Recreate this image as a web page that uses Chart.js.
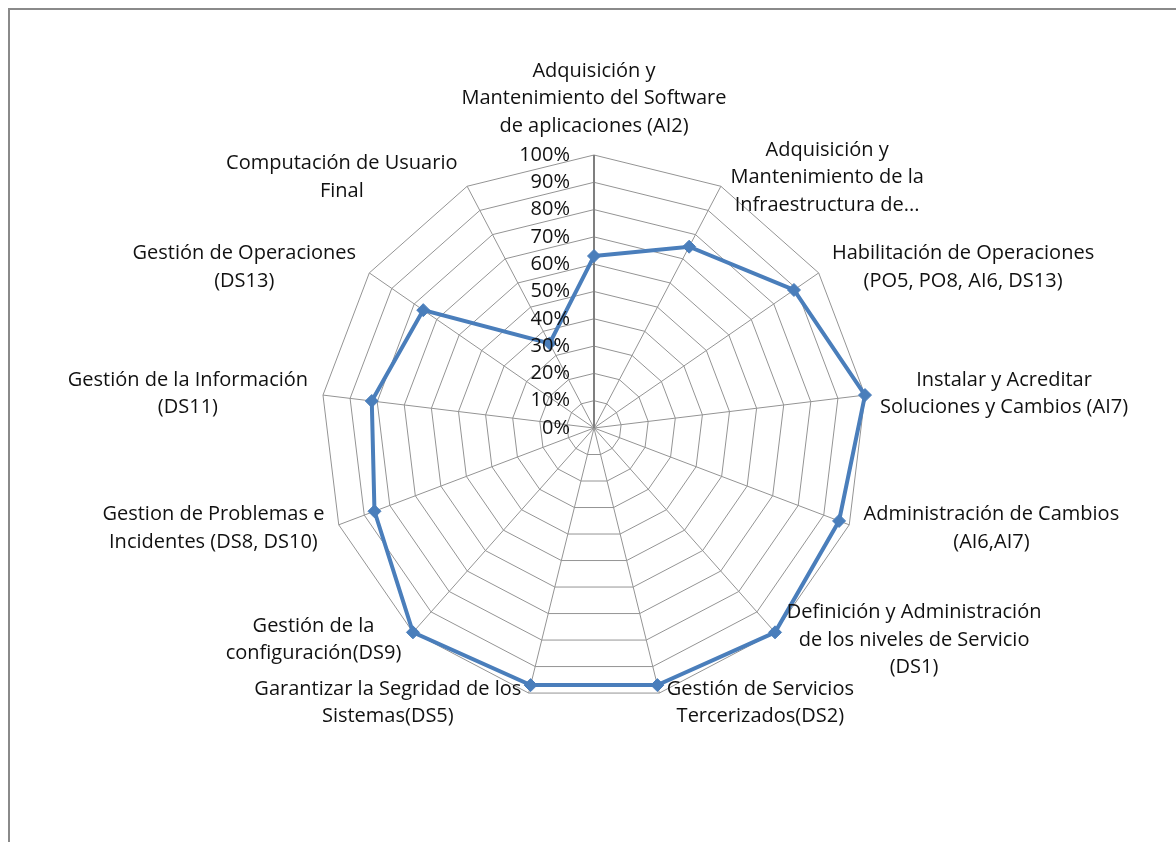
<!DOCTYPE html>
<html>
<head>
<meta charset="utf-8">
<script src="https://cdn.jsdelivr.net/npm/chart.js@4.4.1/dist/chart.umd.min.js"></script>
<style>
    html, body { margin: 0; padding: 0; background: #fff; }
    #wrap { position: relative; width: 1176px; height: 842px; overflow: hidden; }
    #frame { position: absolute; left: 8px; top: 8px; right: -10px; bottom: -10px;
             border-top: 2px solid #8a8a8a; border-left: 2px solid #8a8a8a; }
    canvas { position: absolute; left: 0; top: 0; }
</style>
</head>
<body>
<div id="wrap">
    <div id="frame"></div>
    <canvas id="radarChart" width="1176" height="842"></canvas>
</div>
<script>
// categories, clockwise from the top
const categories = [
    ['Adquisición y', 'Mantenimiento del Software', 'de aplicaciones (AI2)'],
    ['Adquisición y', 'Mantenimiento de la', 'Infraestructura de...'],
    ['Habilitación de Operaciones', '(PO5, PO8, AI6, DS13)'],
    ['Instalar y Acreditar', 'Soluciones y Cambios (AI7)'],
    ['Administración de Cambios', '(AI6,AI7)'],
    ['Definición y Administración', 'de los niveles de Servicio', '(DS1)'],
    ['Gestión de Servicios', 'Tercerizados(DS2)'],
    ['Garantizar la Segridad de los', 'Sistemas(DS5)'],
    ['Gestión de la', 'configuración(DS9)'],
    ['Gestion de Problemas e', 'Incidentes (DS8, DS10)'],
    ['Gestión de la Información', '(DS11)'],
    ['Gestión de Operaciones', '(DS13)'],
    ['Computación de Usuario', 'Final']
];

// percent values per category
const seriesValues = [63, 75, 89, 100, 96, 100, 97, 97, 100, 86, 82, 76, 35];

const tickValues = [0, 10, 20, 30, 40, 50, 60, 70, 80, 90, 100];

// layout of the polar area
const CENTER_X = 594;
const CENTER_Y = 428;
const RADIUS = 273;
const FONT = '20px "Open Sans", "Noto Sans", sans-serif';
const LINE_H = 27.5;

const textPlugin = {
    id: 'excelText',
    afterDraw(chart) {
        const scale = chart.scales.r;
        const ctx = chart.ctx;
        ctx.save();
        ctx.font = FONT;
        ctx.fillStyle = '#111';
        ctx.textBaseline = 'middle';

        // value axis labels, left of the vertical spoke
        ctx.textAlign = 'right';
        tickValues.forEach(v => {
            const d = scale.getDistanceFromCenterForValue(v);
            ctx.fillText(v + '%', scale.xCenter - 24, scale.yCenter - d);
        });

        // category labels
        ctx.textAlign = 'center';
        const n = categories.length;
        categories.forEach((lines, i) => {
            const p = scale.getPointPosition(i, scale.drawingArea + 10);
            const deg = i * 360 / n;
            const w = Math.max(...lines.map(l => ctx.measureText(l).width));
            const h = lines.length * LINE_H;
            let cx, top;
            if (deg === 0) {
                cx = p.x;
                top = p.y - h - 5;
            } else if (deg < 180) {
                cx = p.x + 5 + w / 2;
                top = p.y - h / 2;
            } else {
                cx = p.x - 5 - w / 2;
                top = p.y - h / 2;
            }
            lines.forEach((l, j) => ctx.fillText(l, cx, top + LINE_H * (j + 0.5)));
        });
        ctx.restore();
    }
};

new Chart(document.getElementById('radarChart'), {
    type: 'radar',
    data: {
        labels: categories,
        datasets: [{
            label: 'Serie1',
            data: seriesValues,
            borderColor: '#4A7EBB',
            backgroundColor: '#4A7EBB',
            borderWidth: 4,
            fill: false,
            pointStyle: 'rectRot',
            pointRadius: 6.5,
            pointBorderWidth: 1,
            pointBackgroundColor: '#4A7EBB',
            pointBorderColor: '#4A7EBB'
        }]
    },
    options: {
        responsive: false,
        animation: false,
        layout: { padding: 0 },
        plugins: {
            legend: { display: false },
            tooltip: { enabled: false }
        },
        scales: {
            r: {
                min: 0,
                max: 100,
                ticks: { display: false, stepSize: 10 },
                pointLabels: { display: false },
                grid: { color: '#949494', lineWidth: 1 },
                angleLines: {
                    color: (c) => c.index === 0 ? '#7f7f7f' : '#949494',
                    lineWidth: (c) => c.index === 0 ? 2 : 1
                },
                afterFit: (scale) => {
                    scale.xCenter = CENTER_X;
                    scale.yCenter = CENTER_Y;
                    scale.drawingArea = RADIUS;
                }
            }
        }
    },
    plugins: [textPlugin]
});
</script>
</body>
</html>
